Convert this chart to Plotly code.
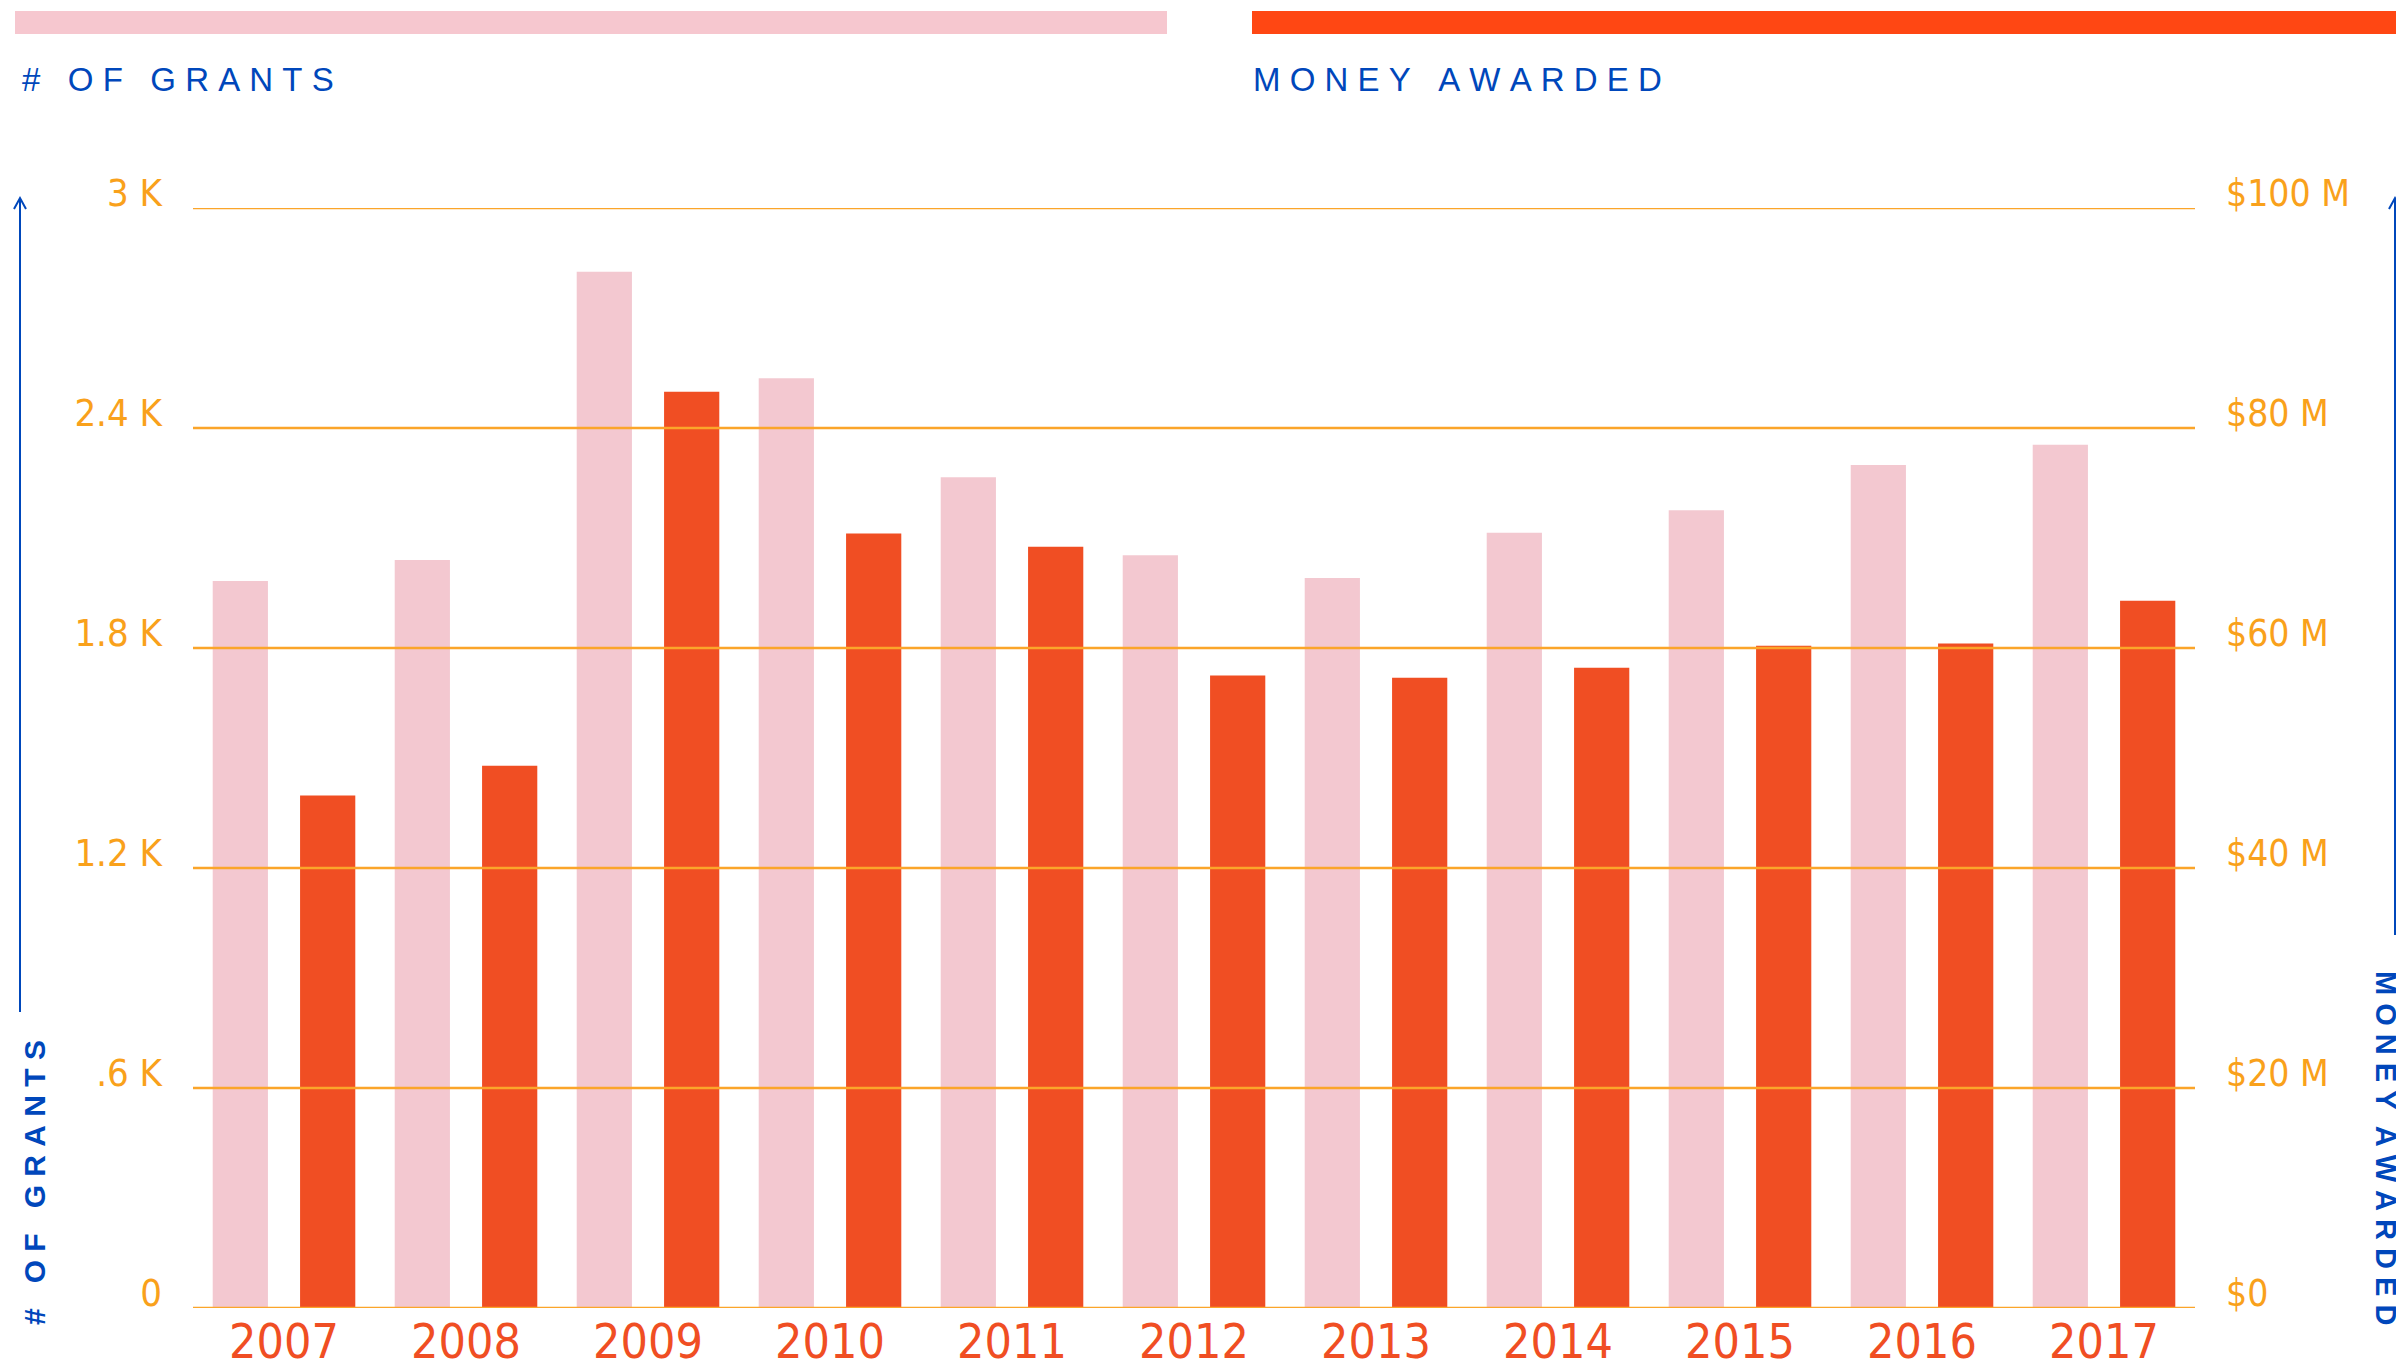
import plotly.graph_objects as go

# ---------------- data ----------------
YEARS = ["2007", "2008", "2009", "2010", "2011", "2012", "2013", "2014", "2015", "2016", "2017"]
GRANTS = [1983, 2040, 2826, 2536, 2266, 2053, 1991, 2114, 2176, 2299, 2354]
MONEY_M = [46.6, 49.3, 83.3, 70.4, 69.2, 57.5, 57.3, 58.2, 60.2, 60.4, 64.3]
MONEY = [v * 1e6 for v in MONEY_M]

Y1_TICKS = [0, 600, 1200, 1800, 2400, 3000]
Y1_LABELS = ["0", ".6 K", "1.2 K", "1.8 K", "2.4 K", "3 K"]
Y2_TICKS = [0, 20e6, 40e6, 60e6, 80e6, 100e6]
Y2_LABELS = ["$0", "$20 M", "$40 M", "$60 M", "$80 M", "$100 M"]

LEGEND_LABELS = ["# OF GRANTS", "MONEY AWARDED"]

# ---------------- style ----------------
BODY = 8  # default page margin around the plot div
W, H = 2404 - BODY, 1371 - BODY
ML, MR, MT, MB = 185, 209, 200, 63
PW, PH = W - ML - MR, H - MT - MB

PINK = "#f3c8d0"
PINK_LEG = "#f6c7cf"
RED = "#f04e23"
RED_LEG = "#ff4713"
GOLD = "#fba52a"
GOLD_TXT = "#f9a11b"
BLUE = "#0047bb"
NARROW = "DejaVu Sans Condensed, Liberation Sans Narrow, Arial Narrow, Liberation Sans, sans-serif"
SANS = "Liberation Sans, Arial, DejaVu Sans, sans-serif"


def px(x):
    # page pixel -> paper x
    return (x - BODY - ML) / PW


def py(y):
    # page pixel -> paper y
    return (H - MB - (y - BODY)) / PH


def spaced(text, letter=1, word=3):
    out = []
    for w in text.split(" "):
        out.append(("\u00a0" * letter).join(list(w)))
    return ("\u00a0" * word).join(out)


fig = go.Figure()
fig.add_trace(go.Bar(x=YEARS, y=GRANTS, name=LEGEND_LABELS[0], marker_color=PINK,
                     marker_line_width=0, offsetgroup="a", alignmentgroup="g", yaxis="y"))
fig.add_trace(go.Bar(x=YEARS, y=MONEY, name=LEGEND_LABELS[1], marker_color=RED,
                     marker_line_width=0, offsetgroup="b", alignmentgroup="g", yaxis="y2"))

shapes = []
# gridlines drawn above bars
for v in Y1_TICKS:
    shapes.append(dict(type="line", xref="paper", yref="y", x0=0, x1=1, y0=v, y1=v,
                       line=dict(color=GOLD, width=2.5), layer="above"))
# legend bars
shapes.append(dict(type="rect", xref="paper", yref="paper", x0=px(15), x1=px(1167),
                   y0=py(34), y1=py(11), fillcolor=PINK_LEG, line_width=0))
shapes.append(dict(type="rect", xref="paper", yref="paper", x0=px(1252), x1=px(2410),
                   y0=py(34), y1=py(11), fillcolor=RED_LEG, line_width=0))
# axis arrows
for ax_x, bottom in [(20, 1012), (2395, 935)]:
    shapes.append(dict(type="line", xref="paper", yref="paper", x0=px(ax_x), x1=px(ax_x),
                       y0=py(199), y1=py(bottom), line=dict(color=BLUE, width=2)))
    path = "M {} {} L {} {} L {} {}".format(px(ax_x - 6), py(209), px(ax_x), py(198),
                                            px(ax_x + 6), py(209))
    shapes.append(dict(type="path", xref="paper", yref="paper", path=path,
                       line=dict(color=BLUE, width=2)))

annotations = [
    dict(text=spaced(LEGEND_LABELS[0], 1, 3), x=px(20), y=py(80), xref="paper", yref="paper",
         xanchor="left", yanchor="middle", showarrow=False,
         font=dict(family=SANS, size=33, color=BLUE)),
    dict(text=spaced(LEGEND_LABELS[1], 1, 3), x=px(1251), y=py(80), xref="paper", yref="paper",
         xanchor="left", yanchor="middle", showarrow=False,
         font=dict(family=SANS, size=33, color=BLUE)),
    dict(text="<b>" + spaced(LEGEND_LABELS[0], 1, 3) + "</b>", x=px(34), y=py(1183),
         xref="paper", yref="paper", xanchor="center", yanchor="middle", showarrow=False,
         textangle=-90, font=dict(family=SANS, size=30, color=BLUE)),
    dict(text="<b>" + spaced(LEGEND_LABELS[1], 1, 2) + "</b>", x=px(2386), y=py(1148),
         xref="paper", yref="paper", xanchor="center", yanchor="middle", showarrow=False,
         textangle=90, font=dict(family=SANS, size=29, color=BLUE)),
]

fig.update_layout(
    width=W, height=H,
    margin=dict(l=ML, r=MR, t=MT, b=MB, pad=0, autoexpand=False),
    paper_bgcolor="white", plot_bgcolor="white",
    barmode="group", bargap=0.04, bargroupgap=0.368,
    showlegend=False,
    shapes=shapes, annotations=annotations,
    xaxis=dict(type="category", showgrid=False, zeroline=False, showline=False, ticks="",
               tickfont=dict(family=NARROW, size=48, color=RED), ticklabelstandoff=1,
               automargin=False, fixedrange=True),
    yaxis=dict(range=[0, 3000], tickvals=Y1_TICKS, ticktext=Y1_LABELS, showgrid=False,
               zeroline=False, showline=False, ticks="", automargin=False,
               tickfont=dict(family=NARROW, size=38, color=GOLD_TXT),
               ticklabelshift=-15, ticklabelstandoff=30, fixedrange=True),
    yaxis2=dict(range=[0, 100e6], tickvals=Y2_TICKS, ticktext=Y2_LABELS, overlaying="y",
                side="right", showgrid=False, zeroline=False, showline=False, ticks="",
                automargin=False,
                tickfont=dict(family=NARROW, size=37, color=GOLD_TXT),
                ticklabelshift=-15, ticklabelstandoff=30, fixedrange=True),
)

fig.write_html("out.html", config={"displayModeBar": False})
